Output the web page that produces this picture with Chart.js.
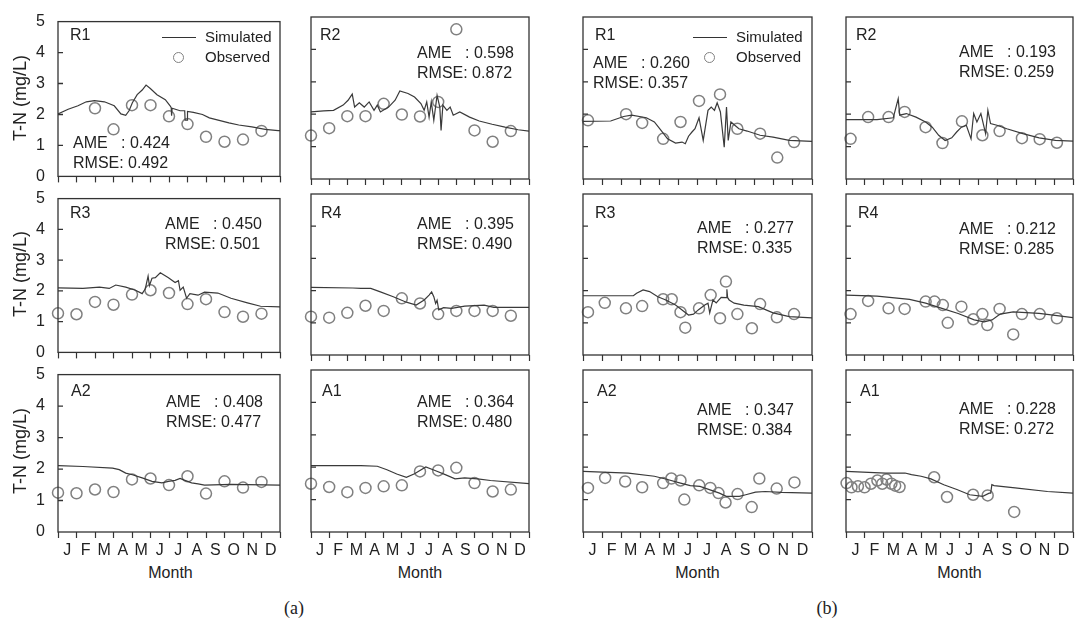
<!DOCTYPE html>
<html>
<head>
<meta charset="utf-8">
<script src="https://cdn.jsdelivr.net/npm/chart.js@4/dist/chart.umd.min.js"></script>
<style>
  body { margin: 0; background: #fff; }
  #fig { position: relative; width: 1077px; height: 623px; overflow: hidden;
         font-family: "Liberation Sans", Arial, sans-serif; color: #222; }
  #fig canvas { position: absolute; }
  .t { position: absolute; white-space: pre; font-size: 16px; line-height: 20px; }
  .leg { font-size: 15px; }
  .ytitle { position: absolute; font-size: 18px; white-space: nowrap;
            transform: translate(-50%, -50%) rotate(-90deg); }
  .xtitle { position: absolute; font-size: 16px; transform: translate(-50%, -50%); }
  .sub { position: absolute; font-family: "Liberation Serif", "Times New Roman", serif;
         font-size: 18px; transform: translate(-50%, -50%); }
  .legline { position: absolute; border-top: 1.3px solid #333; height: 0; }
  .legdot { position: absolute; width: 11px; height: 11px; box-sizing: border-box;
            border: 1.5px solid #808080; border-radius: 50%; }
</style>
</head>
<body>
<div id="fig"></div>
<script>
const months = ["J", "F", "M", "A", "M", "J", "J", "A", "S", "O", "N", "D"];
const yTicks = [0, 1, 2, 3, 4, 5];

// (a) simulated / observed, x = month (0..12), y = T-N mg/L
const simR1a = [[0,2.02],[0.55,2.17],[1.08,2.28],[1.53,2.41],[1.97,2.45],[2.51,2.41],[3.04,2.28],[3.40,2.02],[3.66,1.97],[3.84,2.12],[4.02,2.38],[4.28,2.64],[4.55,2.79],[4.76,2.95],[4.99,2.84],[5.35,2.64],[5.80,2.48],[6.06,2.28],[6.12,2.22],[6.14,1.96],[6.17,2.2],[6.6,2.12],[6.85,2.12],[6.87,1.82],[6.98,1.82],[7.0,2.1],[7.32,2.07],[7.81,2.0],[8.18,1.89],[8.71,1.81],[9.24,1.73],[9.77,1.66],[10.48,1.60],[11.2,1.52],[11.9,1.48],[12,1.48]];
const obsR1a = [[2,2.2],[3,1.52],[4,2.3],[5,2.3],[6,1.94],[7,1.69],[8,1.28],[9,1.12],[10,1.19],[11,1.47]];

const simR2a = [[0,2.07],[0.7,2.10],[1.24,2.12],[1.77,2.28],[2.04,2.43],[2.27,2.62],[2.40,2.22],[2.66,2.35],[2.93,2.22],[3.2,2.38],[3.47,2.12],[3.65,2.28],[3.82,2.07],[4.27,2.22],[4.63,2.43],[4.89,2.72],[5.34,2.64],[5.70,2.53],[6.05,2.33],[6.23,2.12],[6.37,2.38],[6.5,1.91],[6.62,2.38],[6.76,1.81],[6.94,2.58],[7.09,2.22],[7.16,1.50],[7.26,2.28],[7.48,2.12],[7.66,2.22],[7.83,1.97],[8.19,2.07],[8.73,1.91],[9.26,1.79],[9.97,1.69],[10.68,1.60],[11.4,1.52],[12,1.48]];
const obsR2a = [[0,1.34],[1,1.57],[2,1.94],[3,1.94],[4,2.32],[5,1.99],[6,1.93],[7,2.38],[8,4.62],[9,1.50],[10,1.15],[11,1.48]];

const simR3a = [[0,2.10],[1.35,2.08],[2.24,2.12],[2.77,2.08],[3.12,2.19],[3.66,2.12],[4.19,2.02],[4.55,1.91],[4.72,2.07],[4.87,2.48],[4.94,2.17],[5.08,2.41],[5.26,2.43],[5.53,2.59],[5.97,2.43],[6.33,2.27],[6.51,2.33],[6.6,2.02],[6.77,2.12],[6.95,1.76],[7.13,1.91],[7.57,1.86],[7.92,1.96],[8.64,1.93],[9.35,1.76],[10.24,1.61],[10.95,1.50],[12,1.48]];
const obsR3a = [[0,1.27],[1,1.24],[2,1.64],[3,1.55],[4,1.88],[5,2.02],[6,1.93],[7,1.57],[8,1.73],[9,1.31],[10,1.16],[11,1.26]];

const simR4a = [[0,2.10],[2.3,2.08],[2.75,2.07],[3.29,2.07],[3.82,1.96],[4.53,1.81],[5.25,1.64],[5.79,1.55],[6.23,1.71],[6.5,1.86],[6.64,1.96],[6.76,1.81],[6.86,1.60],[6.94,1.70],[7.03,1.40],[7.3,1.47],[7.74,1.45],[8.46,1.52],[9.53,1.55],[10.06,1.48],[12,1.48]];
const obsR4a = [[0,1.19],[1,1.16],[2,1.31],[3,1.53],[4,1.37],[5,1.76],[6,1.60],[7,1.27],[8,1.37],[9,1.37],[10,1.37],[11,1.22]];

const simA2a = [[0,2.11],[1.35,2.08],[2.95,2.03],[3.31,1.98],[3.66,1.87],[4.02,1.82],[4.55,1.72],[5.08,1.61],[5.62,1.56],[5.97,1.61],[6.33,1.64],[6.6,1.70],[6.86,1.64],[7.22,1.56],[7.57,1.53],[7.92,1.49],[9.35,1.51],[12,1.49]];
const obsA2a = [[0,1.25],[1,1.23],[2,1.35],[3,1.27],[4,1.67],[5,1.70],[6,1.49],[7,1.77],[8,1.22],[9,1.61],[10,1.41],[11,1.59]];

const simA1a = [[0,2.05],[2.75,2.05],[3.65,2.03],[4.18,1.92],[4.72,1.79],[5.25,1.69],[5.7,1.80],[6.32,2.01],[6.86,1.89],[7.39,1.77],[7.93,1.64],[8.46,1.67],[9.17,1.64],[9.88,1.59],[12,1.49]];
const obsA1a = [[0,1.49],[1,1.39],[2,1.23],[3,1.36],[4,1.41],[5,1.44],[6,1.87],[7,1.90],[8,1.98],[9,1.51],[10,1.25],[11,1.31]];

// (b)
const simR1b = [[0,1.78],[1.45,1.79],[2.13,1.93],[2.55,1.97],[3.32,1.89],[3.74,1.76],[4.09,1.50],[4.43,1.24],[4.85,1.11],[5.19,1.14],[5.36,1.09],[5.53,1.32],[5.71,1.45],[5.87,1.55],[6.08,1.89],[6.30,1.19],[6.55,2.12],[6.72,2.22],[6.89,2.12],[7.03,2.35],[7.2,2.07],[7.40,0.98],[7.52,2.22],[7.61,1.19],[7.75,1.76],[8.17,1.55],[8.6,1.48],[9.28,1.35],[9.96,1.29],[10.81,1.19],[12,1.16]];
const obsR1b = [[0.26,1.81],[2.26,2.0],[3.10,1.73],[4.20,1.24],[5.11,1.76],[6.08,2.41],[7.18,2.61],[8.09,1.55],[9.28,1.40],[10.18,0.66],[11.06,1.14]];

const simR2b = [[0,1.83],[1.64,1.83],[2.50,1.89],[2.76,2.48],[2.84,1.97],[3.19,2.02],[3.70,1.91],[4.21,1.76],[4.56,1.60],[4.90,1.35],[5.24,1.19],[5.59,1.27],[5.85,1.45],[6.10,1.60],[6.36,1.66],[6.61,1.24],[6.75,2.02],[6.92,1.76],[7.13,2.02],[7.38,1.40],[7.50,2.12],[7.64,1.71],[7.98,1.66],[8.50,1.55],[9.35,1.40],[10.21,1.27],[11.07,1.19],[12,1.17]];
const obsR2b = [[0.24,1.24],[1.17,1.91],[2.25,1.91],[3.10,2.07],[4.21,1.60],[5.10,1.11],[6.13,1.78],[7.21,1.35],[8.12,1.48],[9.30,1.26],[10.24,1.23],[11.15,1.12]];

const simR3b = [[0,1.84],[2.64,1.84],[2.81,1.92],[3.15,2.02],[3.49,1.97],[3.92,1.81],[4.34,1.71],[4.85,1.55],[5.19,1.40],[5.53,1.24],[5.79,1.27],[6.04,1.40],[6.38,1.55],[6.55,1.61],[6.64,1.31],[6.81,1.71],[6.98,1.62],[7.24,1.79],[7.50,1.78],[7.54,2.04],[7.58,1.78],[7.66,1.71],[7.92,1.61],[8.43,1.55],[9.19,1.50],[9.96,1.31],[10.81,1.19],[12,1.15]];
const obsR3b = [[0.26,1.33],[1.14,1.62],[2.25,1.45],[3.10,1.52],[4.20,1.73],[4.65,1.73],[5.11,1.33],[5.36,0.85],[6.08,1.45],[6.69,1.86],[7.18,1.14],[7.49,2.28],[8.09,1.27],[8.85,0.83],[9.28,1.58],[10.16,1.17],[11.06,1.27]];

const simR4b = [[0,1.86],[1.64,1.83],[3.36,1.73],[4.21,1.61],[5.07,1.45],[5.93,1.29],[6.78,1.09],[7.30,1.03],[7.72,1.09],[8.15,1.27],[8.84,1.34],[10.21,1.29],[12,1.16]];
const obsR4b = [[0.24,1.27],[1.17,1.68],[2.25,1.45],[3.10,1.43],[4.21,1.66],[4.68,1.66],[5.12,1.55],[5.38,1.0],[6.10,1.50],[6.73,1.11],[7.21,1.27],[7.47,0.93],[8.12,1.43],[8.84,0.64],[9.30,1.27],[10.24,1.27],[11.15,1.14]];

const simA2b = [[0,1.87],[2.38,1.82],[3.74,1.72],[4.43,1.62],[5.11,1.51],[5.62,1.43],[6.13,1.41],[6.81,1.27],[7.15,1.20],[7.51,1.10],[8.19,1.10],[8.53,1.15],[9.04,1.23],[9.55,1.25],[10.40,1.22],[12,1.20]];
const obsA2b = [[0.26,1.36],[1.16,1.67],[2.21,1.56],[3.10,1.38],[4.20,1.51],[4.63,1.65],[5.11,1.59],[5.31,1.0],[6.09,1.44],[6.67,1.36],[7.1,1.20],[7.47,0.91],[8.10,1.17],[8.84,0.77],[9.24,1.65],[10.15,1.34],[11.08,1.53]];

const simA1b = [[0,1.87],[2.09,1.82],[3.12,1.82],[3.46,1.77],[3.97,1.72],[4.49,1.64],[5.17,1.46],[5.86,1.31],[6.54,1.15],[7.23,1.10],[7.57,1.20],[7.65,1.20],[7.71,1.46],[7.83,1.43],[8.94,1.36],[10.65,1.25],[12,1.20]];
const obsA1b = [[0.03,1.51],[0.29,1.38],[0.63,1.41],[0.98,1.38],[1.32,1.49],[1.66,1.59],[1.92,1.49],[2.14,1.62],[2.40,1.49],[2.60,1.43],[2.83,1.39],[4.66,1.69],[5.34,1.08],[6.72,1.15],[7.49,1.13],[8.89,0.62]];

// panel layout: plot box [left, top, right, bottom] in px
const panels = [
  { tag: "R1", sim: simR1a, obs: obsR1a, ame: "0.424", rmse: "0.492", box: [58, 17, 283, 179], yLab: true,  xLab: false, tagAt: [70, 35],  statAt: [73, 143],  legend: [162, 37] },
  { tag: "R2", sim: simR2a, obs: obsR2a, ame: "0.598", rmse: "0.872", box: [308, 17, 532, 179], yLab: false, xLab: false, tagAt: [320, 35], statAt: [417, 53] },
  { tag: "R1", sim: simR1b, obs: obsR1b, ame: "0.260", rmse: "0.357", box: [580, 17, 815, 179], yLab: false, xLab: false, tagAt: [595, 35], statAt: [593, 63],  legend: [693, 37] },
  { tag: "R2", sim: simR2b, obs: obsR2b, ame: "0.193", rmse: "0.259", box: [843, 17, 1076, 179], yLab: false, xLab: false, tagAt: [856, 35], statAt: [959, 52] },
  { tag: "R3", sim: simR3a, obs: obsR3a, ame: "0.450", rmse: "0.501", box: [58, 194, 283, 355], yLab: true,  xLab: false, tagAt: [70, 213],  statAt: [165, 224] },
  { tag: "R4", sim: simR4a, obs: obsR4a, ame: "0.395", rmse: "0.490", box: [308, 194, 532, 355], yLab: false, xLab: false, tagAt: [321, 213], statAt: [417, 224] },
  { tag: "R3", sim: simR3b, obs: obsR3b, ame: "0.277", rmse: "0.335", box: [580, 194, 815, 355], yLab: false, xLab: false, tagAt: [595, 213], statAt: [697, 228] },
  { tag: "R4", sim: simR4b, obs: obsR4b, ame: "0.212", rmse: "0.285", box: [843, 194, 1076, 355], yLab: false, xLab: false, tagAt: [858, 213], statAt: [959, 229] },
  { tag: "A2", sim: simA2a, obs: obsA2a, ame: "0.408", rmse: "0.477", box: [58, 370, 283, 532], yLab: true,  xLab: true, tagAt: [71, 391],  statAt: [166, 402] },
  { tag: "A1", sim: simA1a, obs: obsA1a, ame: "0.364", rmse: "0.480", box: [308, 370, 532, 532], yLab: false, xLab: true, tagAt: [322, 391], statAt: [417, 402] },
  { tag: "A2", sim: simA2b, obs: obsA2b, ame: "0.347", rmse: "0.384", box: [580, 370, 815, 532], yLab: false, xLab: true, tagAt: [597, 391], statAt: [697, 410] },
  { tag: "A1", sim: simA1b, obs: obsA1b, ame: "0.228", rmse: "0.272", box: [843, 370, 1076, 532], yLab: false, xLab: true, tagAt: [860, 391], statAt: [959, 409] },
];

const fig = document.getElementById("fig");
const FONT = "'Liberation Sans', Arial, sans-serif";
const INK = "#222";

// box around the plot and inward y ticks
const framePlugin = {
  id: "frame",
  afterDraw(chart) {
    const { ctx, chartArea: a, scales } = chart;
    ctx.save();
    ctx.strokeStyle = "#333";
    ctx.lineWidth = 1.3;
    ctx.strokeRect(a.left, a.top, a.right - a.left, a.bottom - a.top);
    ctx.beginPath();
    yTicks.slice(1, -1).forEach(v => {
      const y = scales.y.getPixelForValue(v);
      ctx.moveTo(a.left, y);
      ctx.lineTo(a.left + 5, y);
    });
    ctx.stroke();
    ctx.restore();
  },
};

function addText(cls, text, x, y) {
  const d = document.createElement("div");
  d.className = cls;
  d.textContent = text;
  d.style.left = x + "px";
  d.style.top = y + "px";
  fig.appendChild(d);
  return d;
}

function makePanel(p) {
  const [L, T, R, B] = p.box;
  const padL = p.yLab ? 32 : 4, padT = 10, padR = 4, padB = p.xLab ? 32 : 12;
  const w = R - L + padL + padR, h = B - T + padT + padB;
  const cv = document.createElement("canvas");
  cv.width = w; cv.height = h;
  cv.style.width = w + "px"; cv.style.height = h + "px";
  cv.style.left = (L - padL) + "px"; cv.style.top = (T - padT) + "px";
  fig.appendChild(cv);

  new Chart(cv, {
    type: "scatter",
    data: {
      datasets: [
        {
          data: p.sim.map(([x, y]) => ({ x, y })),
          showLine: true,
          borderColor: "#3a3a3a",
          borderWidth: 1.2,
          pointRadius: 0,
          tension: 0,
        },
        {
          data: p.obs.map(([x, y]) => ({ x, y })),
          pointRadius: 5.5,
          pointBorderWidth: 1.5,
          borderColor: "#808080",
          backgroundColor: "rgba(255,255,255,0)",
          clip: false,
        },
      ],
    },
    options: {
      responsive: false,
      animation: false,
      devicePixelRatio: 1,
      layout: { padding: { top: padT, right: padR, left: 0, bottom: 0 } },
      plugins: { legend: { display: false }, tooltip: { enabled: false } },
      scales: {
        x: {
          type: "linear",
          min: 0,
          max: 12,
          afterBuildTicks: s => {
            s.ticks = [];
            for (let i = 0; i <= 24; i++) s.ticks.push({ value: i / 2 });
          },
          afterFit: s => { s.height = padB; },
          border: { display: false },
          grid: {
            drawOnChartArea: false,
            tickLength: 6,
            tickWidth: 1.2,
            tickColor: c => (Number.isInteger(c.tick.value) ? "#333" : "rgba(0,0,0,0)"),
          },
          ticks: {
            display: p.xLab,
            autoSkip: false,
            maxRotation: 0,
            padding: 3,
            color: INK,
            font: { size: 16, family: FONT },
            callback: v => (Number.isInteger(v) ? "" : months[Math.floor(v)]),
          },
        },
        y: {
          min: 0,
          max: 5,
          afterBuildTicks: s => { s.ticks = yTicks.map(v => ({ value: v })); },
          afterFit: s => { s.width = padL; },
          border: { display: false },
          grid: { display: false },
          ticks: {
            display: p.yLab,
            padding: 5,
            color: INK,
            font: { size: 16, family: FONT },
          },
        },
      },
    },
    plugins: [framePlugin],
  });

  addText("t", p.tag, p.tagAt[0], p.tagAt[1] - 10);
  addText("t", "AME   : " + p.ame + "\nRMSE: " + p.rmse, p.statAt[0], p.statAt[1] - 10);

  if (p.legend) {
    const [lx, ly] = p.legend;
    const line = document.createElement("div");
    line.className = "legline";
    line.style.left = lx + "px"; line.style.top = ly + "px"; line.style.width = "34px";
    fig.appendChild(line);
    const dot = document.createElement("div");
    dot.className = "legdot";
    dot.style.left = (lx + 11) + "px"; dot.style.top = (ly + 15) + "px";
    fig.appendChild(dot);
    addText("t leg", "Simulated", lx + 43, ly - 10);
    addText("t leg", "Observed", lx + 43, ly + 10);
  }
}

panels.forEach(makePanel);

// axis titles and figure labels
[98, 274, 451].forEach(y => addText("ytitle", "T-N (mg/L)", 20, y));
[170.5, 420, 697.5, 959.5].forEach(x => addText("xtitle", "Month", x, 573));
addText("sub", "(a)", 294, 608);
addText("sub", "(b)", 827, 608);
</script>
</body>
</html>
